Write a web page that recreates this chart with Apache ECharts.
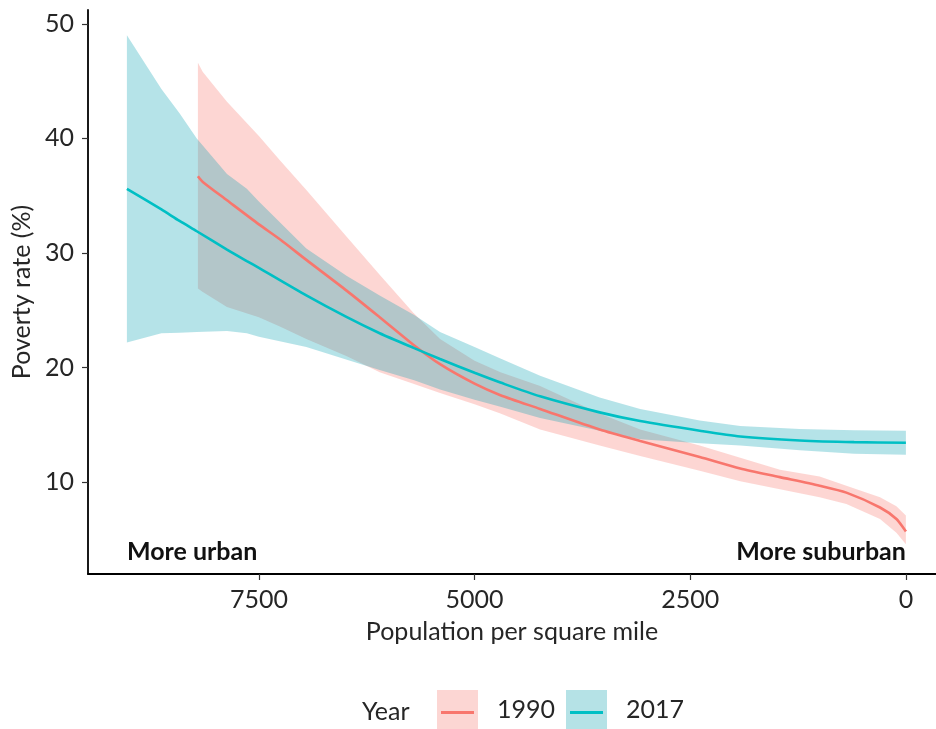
<!DOCTYPE html>
<html>
<head>
<meta charset="utf-8">
<script src="https://cdn.jsdelivr.net/npm/echarts@6/dist/echarts.min.js"></script>
<style>
  html, body { margin: 0; padding: 0; background: #fff; }
  #chart { width: 936px; height: 729px; }
</style>
</head>
<body>
<div id="chart"></div>
<script>
// 2017 smooth fit (teal)
var x2017 = [9030, 8630, 8420, 8220, 7870, 7640, 7500, 6950, 6480, 6100, 5700, 5400, 5000, 4700, 4240, 3550, 3080, 2390, 1920, 1230, 600, 0];
var fit2017 = [35.6, 33.8, 32.8, 31.9, 30.3, 29.3, 28.7, 26.3, 24.4, 23.0, 21.7, 20.75, 19.55, 18.7, 17.5, 16.1, 15.34, 14.5, 14.0, 13.65, 13.5, 13.45];
var lo2017 = [22.2, 23.0, 23.05, 23.1, 23.2, 23.0, 22.7, 21.8, 20.7, 19.8, 18.9, 18.1, 17.2, 16.6, 15.6, 14.5, 13.75, 13.4, 13.2, 12.8, 12.5, 12.4];
var hi2017 = [49.0, 44.3, 42.2, 40.0, 36.9, 35.6, 34.5, 30.4, 28.0, 26.3, 24.6, 23.1, 21.8, 20.8, 19.3, 17.4, 16.4, 15.4, 14.9, 14.65, 14.55, 14.5];

// 1990 smooth fit (red)
var x1990 = [8207, 8150, 7870, 7500, 7257, 6950, 6480, 6100, 5710, 5400, 5000, 4700, 4240, 3550, 3080, 2390, 1920, 1460, 1000, 690, 300, 110, 0];
var fit1990 = [36.7, 36.2, 34.6, 32.5, 31.2, 29.4, 26.7, 24.4, 22.0, 20.3, 18.6, 17.6, 16.4, 14.6, 13.6, 12.2, 11.2, 10.45, 9.7, 9.1, 7.8, 6.8, 5.7];
var lo1990 = [26.9, 26.6, 25.3, 24.4, 23.6, 22.5, 21.0, 19.6, 18.6, 17.8, 16.8, 16.0, 14.6, 13.2, 12.3, 11.0, 10.1, 9.4, 8.7, 8.1, 6.8, 5.6, 4.6];
var hi1990 = [46.6, 45.8, 43.2, 40.2, 38.1, 35.5, 31.4, 28.1, 24.8, 22.5, 20.6, 19.6, 18.4, 16.0, 14.6, 13.2, 12.15, 11.1, 10.5, 9.7, 8.7, 7.9, 7.1];

var xTicks = [0, 2500, 5000, 7500];
var yTicks = [10, 20, 30, 40, 50];
var labels = [
  { name: 'More urban', x: 9030, y: 3.9, side: 'right' },
  { name: 'More suburban', x: 0, y: 3.9, side: 'left' }
];

var RED = '#F8766D', TEAL = '#00BFC4';
var FONT = 'Lato';
var FS = 25;

function pairs(xs, ys) {
  return xs.map(function (x, i) { return [x, ys[i]]; });
}
function rows(xs, lo, hi) {
  return xs.map(function (x, i) { return [x, lo[i], hi[i]]; });
}

// ribbon drawn as one polygon through the axis scales
function bandSeries(name, xs, lo, hi, fill) {
  return {
    name: name, type: 'custom', silent: true,
    data: rows(xs, lo, hi),
    encode: { x: 0, y: [1, 2] },
    renderItem: function (params, api) {
      if (params.dataIndexInside !== 0) return;
      var top = [], bot = [];
      for (var i = 0; i < params.dataInsideLength; i++) {
        top.push(api.coord([api.value(0, i), api.value(2, i)]));
        bot.push(api.coord([api.value(0, i), api.value(1, i)]));
      }
      return {
        type: 'polygon',
        shape: { points: top.concat(bot.reverse()) },
        style: { fill: fill, stroke: null }
      };
    }
  };
}

function lineSeries(name, xs, ys, color) {
  return {
    name: name, type: 'line', data: pairs(xs, ys), symbol: 'none',
    smooth: 0.25,
    lineStyle: { color: color, width: 2.6 }, itemStyle: { color: color }
  };
}

var series = [
  bandSeries('1990', x1990, lo1990, hi1990, 'rgba(248,118,109,0.3)'),
  lineSeries('1990', x1990, fit1990, RED),
  bandSeries('2017', x2017, lo2017, hi2017, 'rgba(0,160,175,0.29)'),
  lineSeries('2017', x2017, fit2017, TEAL)
];

series.push({
  type: 'scatter', symbolSize: 0, silent: true,
  itemStyle: { opacity: 1 },
  data: labels.map(function (l) {
    return { value: [l.x, l.y], name: l.name, label: { position: l.side } };
  }),
  label: {
    show: true, distance: 0, formatter: '{b}',
    fontFamily: FONT, fontWeight: 'bold', fontSize: FS, color: '#111'
  }
});

var legendBase = {
  orient: 'horizontal', itemGap: 11, padding: 0,
  textStyle: { fontFamily: FONT, fontSize: FS, color: '#262626', padding: [0, 0, 0, 14] },
  selectedMode: false
};

var chart = echarts.init(document.getElementById('chart'));
chart.setOption({
  animation: false,
  backgroundColor: '#fff',
  grid: { left: 88, top: 10, right: 0, bottom: 155, containLabel: false },
  xAxis: {
    type: 'value', inverse: true, min: -349, max: 9481,
    name: 'Population per square mile', nameLocation: 'middle', nameGap: 45,
    nameTextStyle: { fontFamily: FONT, fontSize: FS, color: '#262626' },
    axisLine: { show: true, onZero: false, lineStyle: { color: '#000', width: 1.8 } },
    axisTick: { show: true, length: 6, lineStyle: { color: '#333', width: 1.2 }, customValues: xTicks },
    axisLabel: { customValues: xTicks, margin: 13, fontFamily: FONT, fontSize: FS, color: '#262626',
      formatter: function (v) { return String(v); } },
    splitLine: { show: false }
  },
  yAxis: {
    type: 'value', min: 2.0, max: 51.2,
    name: 'Poverty rate (%)', nameLocation: 'middle', nameGap: 54,
    nameTextStyle: { fontFamily: FONT, fontSize: FS, color: '#262626' },
    axisLine: { show: true, onZero: false, lineStyle: { color: '#000', width: 1.8 } },
    axisTick: { show: true, length: 6, lineStyle: { color: '#333', width: 1.2 }, customValues: yTicks },
    axisLabel: { customValues: yTicks, margin: 14, fontFamily: FONT, fontSize: FS, color: '#262626' },
    splitLine: { show: false }
  },
  legend: [
    Object.assign({}, legendBase, {
      left: 437, top: 690, icon: 'rect', itemWidth: 41, itemHeight: 40,
      data: [
        { name: '1990', itemStyle: { color: '#fcd6d3', borderWidth: 0 } },
        { name: '2017', itemStyle: { color: '#b5e2e6', borderWidth: 0 } }
      ]
    }),
    Object.assign({}, legendBase, {
      left: 441, top: 700, icon: 'rect', itemWidth: 33, itemHeight: 3,
      textStyle: { fontFamily: FONT, fontSize: FS, color: 'rgba(0,0,0,0)', padding: [0, 0, 0, 22] },
      data: [
        { name: '1990', itemStyle: { color: RED, borderWidth: 0 } },
        { name: '2017', itemStyle: { color: TEAL, borderWidth: 0 } }
      ]
    })
  ],
  graphic: [{
    type: 'text', left: 362, top: 699,
    style: { text: 'Year', font: FS + 'px Lato', fill: '#262626' }
  }],
  series: series
});
</script>
</body>
</html>
